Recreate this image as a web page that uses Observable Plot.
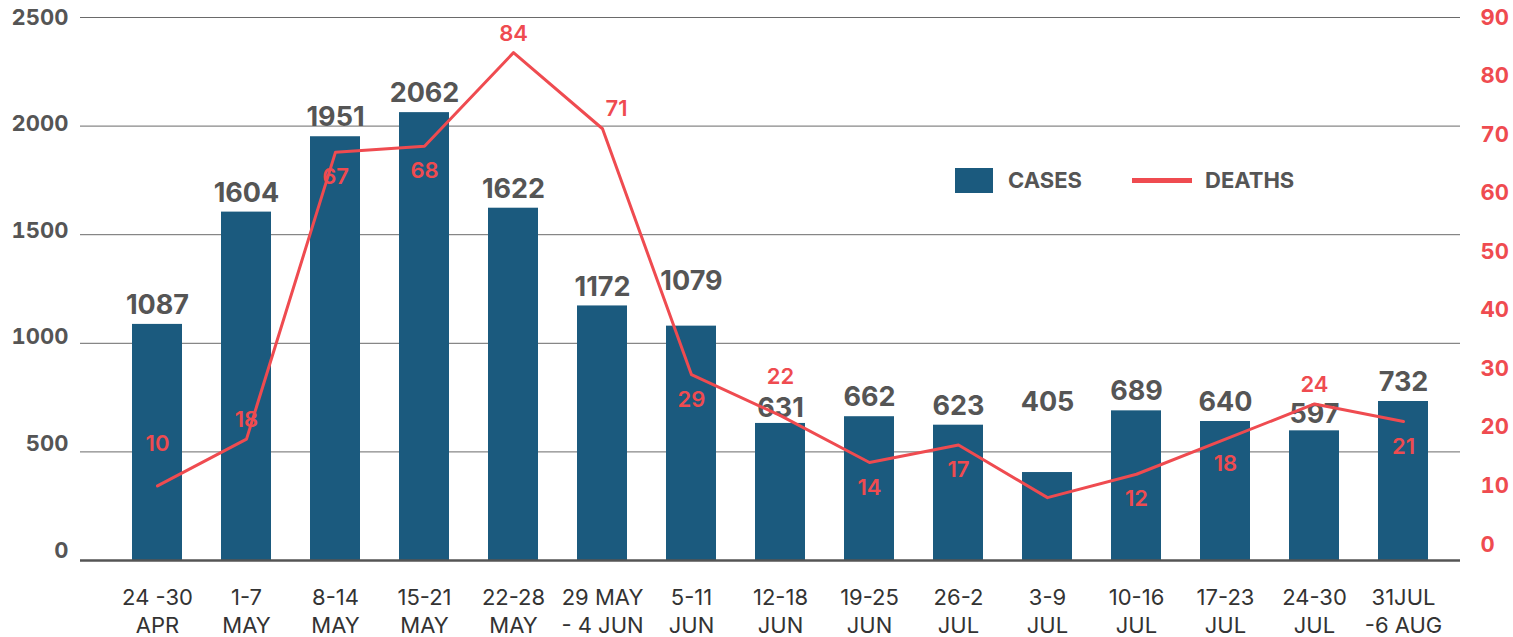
<!DOCTYPE html>
<html>
<head>
<meta charset="utf-8">
<script src="https://cdn.jsdelivr.net/npm/d3@7"></script>
<script src="https://cdn.jsdelivr.net/npm/@observablehq/plot@0.6"></script>
<style>
  html, body { margin: 0; padding: 0; background: #fff; }
  #wrap { position: relative; width: 1513px; height: 637px; font-family: Inter, "Open Sans", sans-serif; }
  #wrap > svg, #wrap > figure { position: absolute; left: 0; top: 0; margin: 0; }
  .lg { position: absolute; font-size: 22px; font-weight: 700; color: #555; line-height: 1; }
</style>
</head>
<body>
<div id="wrap"></div>
<script>
// ---- data ----
const weeks = ["24 -30\nAPR", "1-7\nMAY", "8-14\nMAY", "15-21\nMAY", "22-28\nMAY", "29 MAY\n- 4 JUN", "5-11\nJUN", "12-18\nJUN", "19-25\nJUN", "26-2\nJUL", "3-9\nJUL", "10-16\nJUL", "17-23\nJUL", "24-30\nJUL", "31JUL\n-6 AUG"];
const cases = [1087, 1604, 1951, 2062, 1622, 1172, 1079, 631, 662, 623, 405, 689, 640, 597, 732];
const deaths = [10, 18, 67, 68, 84, 71, 29, 22, 14, 17, 8, 12, 18, 24, 21];
const deathLabels = ["10", "18", "67", "68", "84", "71", "29", "22", "14", "17", "", "12", "18", "24", "21"];
const casesTicks = [0, 500, 1000, 1500, 2000, 2500];
const deathsTicks = [0, 10, 20, 30, 40, 50, 60, 70, 80, 90];

const rows = weeks.map((w, i) => ({week: w, cases: cases[i], deaths: deaths[i], dlabel: deathLabels[i], i}));

const W = 1513, H = 637;
const BAR = "#1b5a7e", RED = "#ef4b50", GREY = "#555";
const FONT = "Inter, 'Open Sans', sans-serif";
const xScale = {type: "band", domain: weeks, range: [111.4, 1449.4], paddingInner: 0.44, paddingOuter: 0.22};

const wrap = document.getElementById("wrap");

// Layer A: bars, grid, labels, x axis
const caseShift = {6: -45, 10: -70, 7: -15, 13: -16};
const cText = {x: "week", y: "cases", text: d => String(d.cases), fontSize: 27, fontWeight: 700, fill: GREY};
const plotA = Plot.plot({
  width: W, height: H,
  marginTop: 17, marginBottom: 77, marginLeft: 80, marginRight: 53,
  x: {...xScale, axis: null},
  y: {domain: [0, 2500], axis: null},
  style: {fontFamily: FONT, background: "transparent"},
  marks: [
    Plot.ruleY(casesTicks.filter(d => d > 0), {stroke: "#6a6a6a", strokeWidth: 1}),
    Plot.barY(rows, {x: "week", y: "cases", fill: BAR}),
    Plot.ruleY([0], {stroke: "#555", strokeWidth: 2.5}),
    Plot.text(rows.filter(d => !(d.i in caseShift)), {...cText, dy: -19}),
    ...Object.entries(caseShift).map(([k, dy]) => Plot.text(rows.filter(d => d.i === +k), {...cText, dy})),
    Plot.text(weeks, {x: d => d, frameAnchor: "bottom", lineAnchor: "top", dy: 25, fontSize: 22, lineHeight: 1.27, fill: "#333"})
  ]
});
wrap.appendChild(plotA);

// Layer B: deaths line + right axis
const above = [1, 4, 13];
const below = [2, 3, 6, 8, 9, 11, 12, 14];
const dText = {x: "week", y: "deaths", text: "dlabel", fontSize: 22, fontWeight: 600, fill: RED};
const plotB = Plot.plot({
  width: W, height: H,
  marginTop: 17, marginBottom: 93, marginLeft: 80, marginRight: 53,
  x: {...xScale, axis: null},
  y: {domain: [0, 90], axis: null},
  style: {fontFamily: FONT, background: "transparent"},
  marks: [
    Plot.line(rows, {x: "week", y: "deaths", stroke: RED, strokeWidth: 3}),
    Plot.text(rows.filter(d => above.includes(d.i)), {...dText, dy: -19}),
    Plot.text(rows.filter(d => below.includes(d.i)), {...dText, dy: 25}),
    Plot.text(rows.filter(d => d.i === 0), {...dText, dy: -42}),
    Plot.text(rows.filter(d => d.i === 7), {...dText, dy: -39}),
    Plot.text(rows.filter(d => d.i === 5), {...dText, dy: -20, dx: 14}),
    Plot.axisY({anchor: "right", ticks: deathsTicks, tickSize: 0, tickPadding: 20, fontSize: 22, fontWeight: 700, fill: RED, label: null, textAnchor: "start"})
  ]
});
wrap.appendChild(plotB);

// Layer C: left axis labels
const plotC = Plot.plot({
  width: W, height: H,
  marginTop: 17, marginBottom: 87, marginLeft: 80, marginRight: 53,
  x: {...xScale, axis: null},
  y: {domain: [0, 2500], axis: null},
  style: {fontFamily: FONT, background: "transparent"},
  marks: [
    Plot.axisY({anchor: "left", ticks: casesTicks, tickSize: 0, tickPadding: 12, fontSize: 22, fontWeight: 700, fill: GREY, label: null, tickFormat: d => String(d)})
  ]
});
wrap.appendChild(plotC);

// Legend
const lg = [
  `<div style="position:absolute;left:955px;top:168px;width:38px;height:25px;background:${BAR}"></div>`,
  `<div class="lg" style="left:1008px;top:169px;">CASES</div>`,
  `<div style="position:absolute;left:1132px;top:178px;width:60px;height:5px;background:${RED}"></div>`,
  `<div class="lg" style="left:1205px;top:169px;">DEATHS</div>`
].join("");
wrap.insertAdjacentHTML("beforeend", lg);
</script>
</body>
</html>
